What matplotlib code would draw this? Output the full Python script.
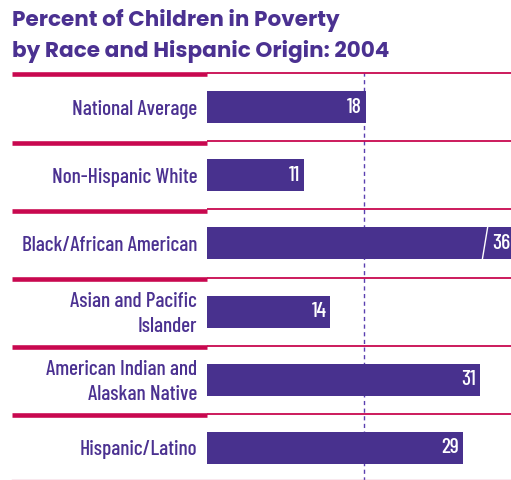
import matplotlib
matplotlib.use("Agg")
import matplotlib.pyplot as plt
from matplotlib.transforms import blended_transform_factory

# data
categories = [
    "National Average",
    "Non-Hispanic White",
    "Black/African American",
    "Asian and Pacific\nIslander",
    "American Indian and\nAlaskan Native",
    "Hispanic/Latino",
]
values = [18, 11, 36, 14, 31, 29]
national_avg = 18
title = "Percent of Children in Poverty\nby Race and Hispanic Origin: 2004"

PURPLE = "#48318e"
TEXT = "#4b3191"
RED = "#c8084f"
PINK = "#e58aab"

LABEL_FONT = dict(family=["Barlow Condensed", "DejaVu Sans"], fontweight=500)
TITLE_FONT = dict(family=["Poppins", "DejaVu Sans"], fontweight="bold")

W, H = 511, 480
fig = plt.figure(figsize=(W / 100, H / 100), dpi=100)

top, bottom = 73, 482
ax = fig.add_axes([207 / W, 1 - bottom / H, (W - 207) / W, (bottom - top) / H])
px_per_unit = 8.82
ax.set_xlim(0, (W - 207) / px_per_unit)
ax.set_ylim(len(categories) - 0.5, -0.5)
ax.axis("off")

ypos = list(range(len(categories)))
ax.axvline(national_avg - 0.15, color="#5a3fb0", lw=1.0, ls=(0, (3, 2.5)), zorder=1)
ax.barh(ypos, values, height=0.47, color=PURPLE, zorder=2)

xmax = ax.get_xlim()[1]
for y, v in zip(ypos, values):
    if v > xmax:
        # broken bar marker
        x0 = xmax - 3.25
        ax.plot([x0, x0 + 0.6], [y + 0.235, y - 0.235], color="white", lw=1.0, zorder=3)
        ax.text(xmax - 0.1, y, str(v), ha="right", va="center", color="white",
                fontsize=15.5, zorder=4, **LABEL_FONT)
    else:
        ax.text(v - 0.45, y, str(v), ha="right", va="center", color="white",
                fontsize=15.5, zorder=4, **LABEL_FONT)

# category labels
lab_tr = blended_transform_factory(fig.transFigure, ax.transData)
for y, c in zip(ypos, categories):
    ax.text(197 / W, y + 0.03, c, transform=lab_tr, ha="right", va="center", color=TEXT,
            fontsize=15.3, linespacing=1.4, **LABEL_FONT)

# separators
for i in range(len(categories)):
    yb = i - 0.5
    ax.plot([207 / W, 1], [yb, yb], transform=lab_tr, color=RED, lw=1.3,
            solid_capstyle="butt", clip_on=False, zorder=5)
    ax.plot([12 / W, 207 / W], [yb + 0.022, yb + 0.022], transform=lab_tr, color=RED,
            lw=3.3, solid_capstyle="butt", clip_on=False, zorder=5)
fig.add_artist(plt.Line2D([12 / W, 1], [1 - 479.5 / H] * 2, color=PINK, lw=1.0))

fig.text(12 / W, 1 - 57 / H, title, ha="left", va="baseline", color=TEXT, fontsize=15.5,
         linespacing=1.5, **TITLE_FONT)

fig.savefig("out.png", dpi=100)
